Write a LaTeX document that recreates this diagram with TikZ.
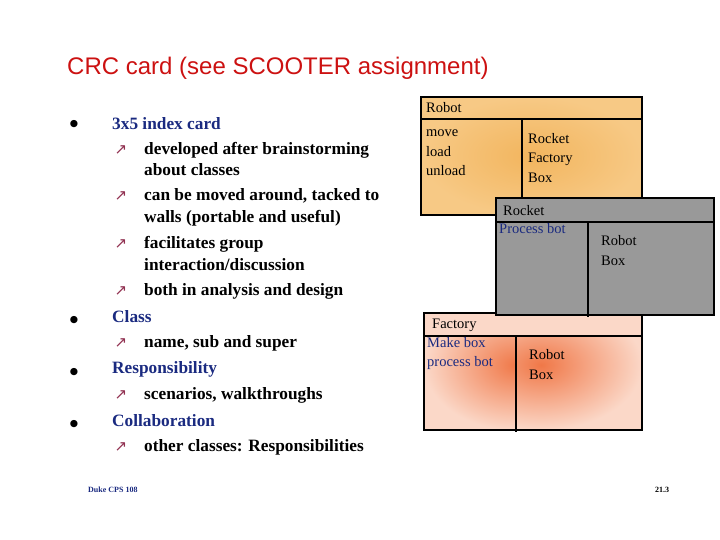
\documentclass[tikz,border=0pt]{standalone}
\usepackage{fontspec}
\setmainfont{Liberation Serif}
\newfontfamily\ttl{Liberation Sans}
\newfontfamily\sym{DejaVu Sans}
\definecolor{navy}{HTML}{1A2A80}
\definecolor{ttlred}{HTML}{CC1111}
\definecolor{arr}{HTML}{903050}
\definecolor{orng}{HTML}{F7C985}
\definecolor{orngd}{HTML}{F2B55E}
\definecolor{pinkl}{HTML}{FBD8C8}
\definecolor{pinkd}{HTML}{F07848}
\begin{document}
\begin{tikzpicture}[x=1pt,y=-1pt,
  lvA/.style={anchor=west,font=\bfseries\fontsize{17.3}{19}\selectfont,text=navy,inner sep=0},
  lvB/.style={anchor=west,font=\bfseries\fontsize{17.3}{19}\selectfont,inner sep=0},
  bul/.style={anchor=center,font=\sym\fontsize{9.5}{10}\selectfont,inner sep=0},
  ar/.style={anchor=center,font=\sym\fontsize{15}{15}\selectfont,text=arr,inner sep=0},
  ct/.style={anchor=west,font=\fontsize{14.5}{16}\selectfont,inner sep=0},
  cb/.style={ct,text=navy},
  card/.style={draw=black,line width=2pt}]
\useasboundingbox (0,0) rectangle (720,540);
\node[anchor=west,inner sep=0,text=ttlred,font=\ttl\fontsize{24}{28}\selectfont] (title) at (67,68) {CRC card (see SCOOTER assignment)};
% bullets
\node[bul] (b1) at (74,124) {●}; \node[lvA] (t1) at (112,124) {3x5 index card};
\node[ar] (a1) at (121,150) {↗}; \node[lvB] (s1) at (144,150) {developed after brainstorming};
\node[lvB] (s1b) at (144,170) {about classes};
\node[ar] (a2) at (121,196) {↗}; \node[lvB] (s2) at (144,196) {can be moved around, tacked to};
\node[lvB] (s2b) at (144,218) {walls (portable and useful)};
\node[ar] (a3) at (121,244) {↗}; \node[lvB] (s3) at (144,244) {facilitates group};
\node[lvB] (s3b) at (144,265) {interaction/discussion};
\node[ar] (a4) at (121,291) {↗}; \node[lvB] (s4) at (144,291) {both in analysis and design};
\node[bul] (b2) at (74,320) {●}; \node[lvA] (t2) at (112,317) {Class};
\node[ar] (a5) at (121,343) {↗}; \node[lvB] (s5) at (144,343) {name, sub and super};
\node[bul] (b3) at (74,372) {●}; \node[lvA] (t3) at (112,369) {Responsibility};
\node[ar] (a6) at (121,395) {↗}; \node[lvB] (s6) at (144,395) {scenarios, walkthroughs};
\node[bul] (b4) at (74,424) {●}; \node[lvA] (t4) at (112,421) {Collaboration};
\node[ar] (a7) at (121,447) {↗}; \node[lvB] (s7) at (144,447) {other classes: Responsibilities};
\node[anchor=west,inner sep=0,text=navy,font=\bfseries\fontsize{8}{9}\selectfont] (f1) at (88,490) {Duke CPS 108};
\node[anchor=west,inner sep=0,font=\bfseries\fontsize{8}{9}\selectfont] (f2) at (655,490) {21.3};
% Robot card
\shade[inner color=orngd,outer color=orng] (421,97) rectangle (642,215);
\draw[card] (421,97) rectangle (642,215);
\draw[card] (421,119) -- (642,119);
\draw[card] (522,119) -- (522,215);
\node[ct] (r0) at (426,108) {Robot};
\node[ct] (r1) at (426,133) {move};
\node[ct] (r2) at (426,152) {load};
\node[ct] (r3) at (426,171) {unload};
\node[ct] (r4) at (528,139) {Rocket};
\node[ct] (r5) at (528,159) {Factory};
\node[ct] (r6) at (528,178) {Box};
% Factory card
\fill[pinkl] (424,313) rectangle (642,430);
\begin{scope}
\clip (424,336) rectangle (516,430);
\shade[inner color=pinkd,outer color=pinkl] (424,300) rectangle (608,430);
\end{scope}
\begin{scope}
\clip (516,336) rectangle (642,430);
\shade[inner color=pinkd,outer color=pinkl] (440,300) rectangle (642,430);
\end{scope}
\draw[card] (424,313) rectangle (642,430);
\draw[card] (424,336) -- (642,336);
\draw[card] (516,336) -- (516,432);
\node[ct] (f0) at (432,325) {Factory};
\node[cb] (fa) at (427,343) {Make box};
\node[cb] (fb) at (427,363) {process bot};
\node[ct] (fc) at (529,355) {Robot};
\node[ct] (fd) at (529,375) {Box};
% Rocket card
\fill[black!40] (496,198) rectangle (714,315);
\draw[card] (496,198) rectangle (714,315);
\draw[card] (496,222) -- (714,222);
\draw[card] (588,222) -- (588,317);
\node[ct] (k0) at (503,211) {Rocket};
\node[cb] (k1) at (499,229) {Process bot};
\node[ct] (k2) at (601,241) {Robot};
\node[ct] (k3) at (601,261) {Box};
\end{tikzpicture}
\end{document}
